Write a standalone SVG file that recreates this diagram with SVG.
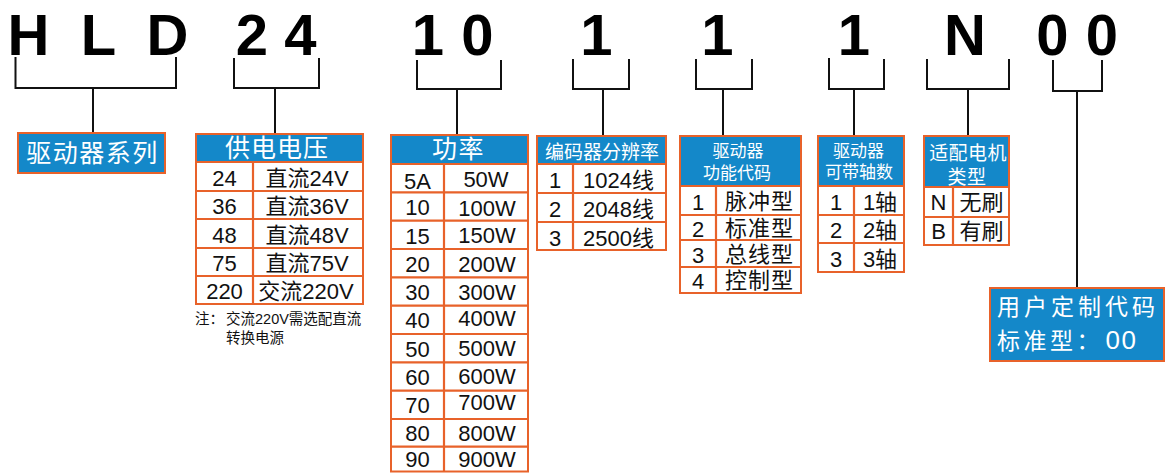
<svg xmlns="http://www.w3.org/2000/svg" width="1166" height="473" viewBox="0 0 1166 473">
<style>
.bg{fill:#ffffff}
.lt{font-family:"Liberation Sans",Arial,sans-serif;font-weight:bold;font-size:58px;fill:#000;text-anchor:middle}
.hd{fill:#1488c9;stroke:#e8622a;stroke-width:2}
.bd{fill:#ffffff;stroke:#e8622a;stroke-width:2}
.ln{stroke:#e8622a;stroke-width:2.2;fill:none}
.br{stroke:#111;stroke-width:2;fill:none}
.t{font-family:"Liberation Sans","Noto Sans CJK SC",sans-serif;font-size:22px;fill:#111;text-anchor:middle}
.w{font-family:"Liberation Sans","Noto Sans CJK SC",sans-serif;fill:#fff;text-anchor:middle}
.s{font-family:"Liberation Sans","Noto Sans CJK SC",sans-serif;font-size:14.5px;fill:#111}
</style>
<rect class="bg" x="0" y="0" width="1166" height="473"/>

<g id="code-letters">
<text class="lt" x="28.5" y="55">H</text>
<text class="lt" x="98.5" y="55">L</text>
<text class="lt" x="167.5" y="55">D</text>
<text class="lt" x="252" y="55">2</text>
<text class="lt" x="300.5" y="55">4</text>
<text class="lt" x="428" y="55">1</text>
<text class="lt" x="477.5" y="55">0</text>
<text class="lt" x="596.5" y="55">1</text>
<text class="lt" x="717.5" y="55">1</text>
<text class="lt" x="854" y="55">1</text>
<text class="lt" x="965" y="55">N</text>
<text class="lt" x="1052.5" y="55">0</text>
<text class="lt" x="1102" y="55">0</text>
</g>

<g id="connectors">
<path class="br" d="M15.5,57 V88 H176 V57 M93,88 V133"/>
<path class="br" d="M234,58 V88 H319 V58 M275,88 V134"/>
<path class="br" d="M417,60 V89 H501 V60 M457,89 V135"/>
<path class="br" d="M573,59 V89 H629 V59 M603,89 V136"/>
<path class="br" d="M696,59 V89 H752 V59 M723,89 V136"/>
<path class="br" d="M829,58 V89 H884 V59 M854,89 V135"/>
<path class="br" d="M927,59 V89 H1009 V59 M968,89 V136"/>
<path class="br" d="M1053,60 V91 H1102 V60 M1077,91 V288"/>
</g>

<g id="series">
<rect class="hd" x="18" y="133" width="147" height="40"/>
<text class="w" x="92.5" y="162" font-size="25" letter-spacing="1.5">驱动器系列</text>
</g>

<g id="voltage">
<rect class="hd" x="196" y="134" width="167" height="28"/>
<rect class="bd" x="196" y="162" width="167" height="142"/>
<path class="ln" d="M196,191 H363 M196,219 H363 M196,248 H363 M196,276 H363 M253,162 V304"/>
<text class="w" x="277" y="157" font-size="25" letter-spacing="1">供电电压</text>
<text class="t" x="224.5" y="185.5">24</text><text class="t" x="307" y="185.5">直流24V</text>
<text class="t" x="224.5" y="214">36</text><text class="t" x="307" y="214">直流36V</text>
<text class="t" x="224.5" y="242.5">48</text><text class="t" x="307" y="242.5">直流48V</text>
<text class="t" x="224.5" y="271">75</text><text class="t" x="307" y="271">直流75V</text>
<text class="t" x="224.5" y="299">220</text><text class="t" x="306" y="299">交流220V</text>
<text class="s" x="195" y="324">注：</text>
<text class="s" x="226" y="324">交流220V需选配直流</text>
<text class="s" x="226" y="342.5">转换电源</text>
</g>

<g id="power">
<rect class="hd" x="391" y="135" width="137" height="29"/>
<rect class="bd" x="391" y="164" width="137" height="307.5"/>
<path class="ln" d="M391,192.3 H528 M391,220.7 H528 M391,249 H528 M391,277.3 H528 M391,305.7 H528 M391,334 H528 M391,362.3 H528 M391,390.7 H528 M391,419 H528 M391,446.7 H528 M444,164 V471.5"/>
<text class="w" x="458.5" y="158" font-size="25" letter-spacing="1.5">功率</text>
<text class="t" x="417.5" y="189">5A</text><text class="t" x="486" y="186.5">50W</text>
<text class="t" x="417.5" y="215">10</text><text class="t" x="487" y="215.5">100W</text>
<text class="t" x="417.5" y="243.5">15</text><text class="t" x="487" y="243">150W</text>
<text class="t" x="417.5" y="271.7">20</text><text class="t" x="487" y="271.5">200W</text>
<text class="t" x="417.5" y="300">30</text><text class="t" x="487" y="299.5">300W</text>
<text class="t" x="417.5" y="328.3">40</text><text class="t" x="487" y="325.5">400W</text>
<text class="t" x="417.5" y="356.7">50</text><text class="t" x="487" y="355.5">500W</text>
<text class="t" x="417.5" y="385">60</text><text class="t" x="487" y="383.5">600W</text>
<text class="t" x="417.5" y="412.7">70</text><text class="t" x="487" y="409.5">700W</text>
<text class="t" x="417.5" y="441">80</text><text class="t" x="487" y="440.5">800W</text>
<text class="t" x="417.5" y="466.7">90</text><text class="t" x="487" y="466.7">900W</text>
</g>

<g id="encoder">
<rect class="hd" x="537" y="136" width="129" height="28"/>
<rect class="bd" x="537" y="164" width="129" height="86"/>
<path class="ln" d="M537,193 H666 M537,222 H666 M573,164 V250"/>
<text class="w" x="602" y="158.5" font-size="19">编码器分辨率</text>
<text class="t" x="555" y="188">1</text><text class="t" x="618.5" y="188">1024线</text>
<text class="t" x="555" y="217">2</text><text class="t" x="618.5" y="217">2048线</text>
<text class="t" x="555" y="245.5">3</text><text class="t" x="618.5" y="245.5">2500线</text>
</g>

<g id="function">
<rect class="hd" x="680" y="136" width="121" height="50"/>
<rect class="bd" x="680" y="186" width="121" height="107"/>
<path class="ln" d="M680,215 H801 M680,240 H801 M680,267 H801 M716,186 V293"/>
<text class="w" x="738" y="157" font-size="17">驱动器</text>
<text class="w" x="737" y="178.8" font-size="17">功能代码</text>
<text class="t" x="698" y="209.5">1</text><text class="t" x="759.5" y="208.5" font-size="18" letter-spacing="1">脉冲型</text>
<text class="t" x="698" y="236.5">2</text><text class="t" x="759.5" y="235.5" font-size="18" letter-spacing="1">标准型</text>
<text class="t" x="698" y="262.5">3</text><text class="t" x="759.5" y="261.5" font-size="18" letter-spacing="1">总线型</text>
<text class="t" x="698" y="289">4</text><text class="t" x="759.5" y="288" font-size="18" letter-spacing="1">控制型</text>
</g>

<g id="axes">
<rect class="hd" x="818" y="136" width="86" height="50"/>
<rect class="bd" x="818" y="186" width="86" height="86"/>
<path class="ln" d="M818,215 H904 M818,243 H904 M854,186 V272"/>
<text class="w" x="858.5" y="156.6" font-size="17">驱动器</text>
<text class="w" x="859" y="178.3" font-size="17">可带轴数</text>
<text class="t" x="836" y="209.5">1</text><text class="t" x="880" y="209.5">1轴</text>
<text class="t" x="836" y="238">2</text><text class="t" x="880" y="238">2轴</text>
<text class="t" x="836" y="266.5">3</text><text class="t" x="880" y="266.5">3轴</text>
</g>

<g id="motor">
<rect class="hd" x="924" y="136" width="85" height="51"/>
<rect class="bd" x="924" y="187" width="85" height="58"/>
<path class="ln" d="M924,217 H1009 M953,187 V245"/>
<text class="w" x="968" y="160" font-size="19" letter-spacing="0.4">适配电机</text>
<text class="w" x="967" y="184" font-size="19" letter-spacing="0.4">类型</text>
<text class="t" x="938.5" y="210">N</text><text class="t" x="981.5" y="210">无刷</text>
<text class="t" x="938.5" y="239">B</text><text class="t" x="981.5" y="239">有刷</text>
</g>

<g id="custom">
<rect class="hd" x="990" y="288" width="174" height="73"/>
<text class="w" x="997" y="315" font-size="23" letter-spacing="4" style="text-anchor:start">用户定制代码</text>
<text class="w" x="997" y="349" font-size="23" letter-spacing="3.5" style="text-anchor:start">标准型：<tspan x="1105.6" font-size="26" letter-spacing="1.5">00</tspan></text>
</g>
</svg>
